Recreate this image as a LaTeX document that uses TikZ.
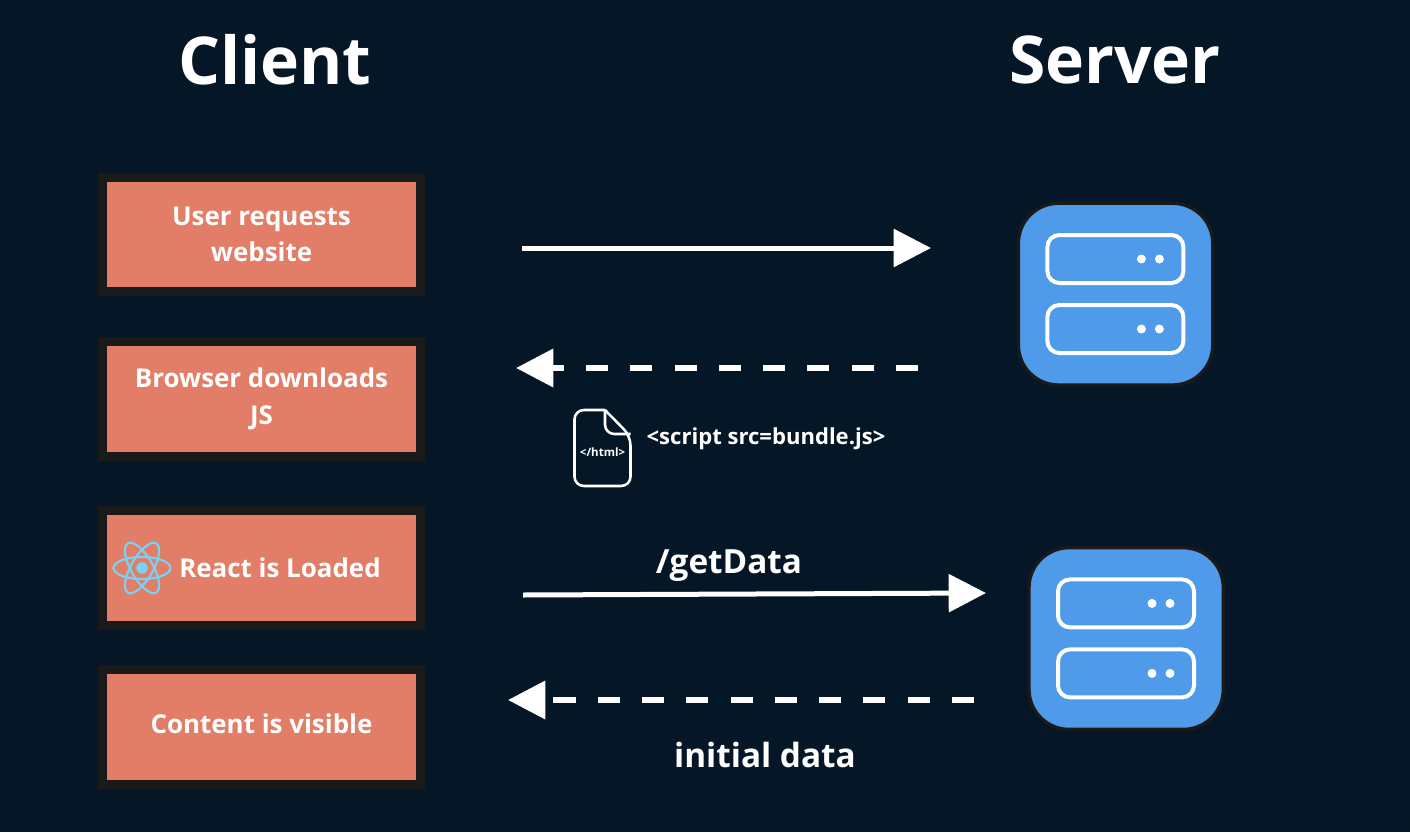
\documentclass[tikz,border=0pt]{standalone}
\usepackage{xcolor}
\usepackage{fontspec}
\setmainfont{Open Sans}
\usetikzlibrary{arrows.meta, positioning}
\definecolor{pagebg}{HTML}{051626}
\definecolor{stepcoral}{HTML}{E27D67}
\definecolor{stepedge}{HTML}{1A1A1A}
\definecolor{serverblue}{HTML}{4F9AE9}
\definecolor{reactblue}{HTML}{79D3F5}
\tikzset{
    titlelabel/.style={text=white, font=\bfseries\fontsize{49.5}{55}\selectfont},
    flowlabel/.style={text=white, font=\bfseries\fontsize{25}{30}\selectfont},
    stepbox/.style={draw=stepedge, line width=6.75pt, fill=stepcoral, text=white,
        minimum width=238.5pt, minimum height=85.9pt, align=center, inner sep=0pt,
        font=\bfseries\fontsize{19.45}{27.5}\selectfont},
    steplabel/.style={text=white, inner sep=0pt, font=\bfseries\fontsize{19.45}{27.5}\selectfont},
    flowline/.style={white, line width=3.75pt, -{Triangle[length=28pt, width=28pt]}},
    backline/.style={flowline, line width=4.5pt, dash pattern=on 16.6pt off 16.6pt},
    servericon/.style={fill=serverblue, draw=stepedge, line width=2.5pt, rounded corners=30pt},
    serverslot/.style={draw=white, line width=3pt, rounded corners=9pt}
}

\begin{document}
\begin{tikzpicture}[x=0.75pt, y=-0.75pt]
    % Background
    \fill[pagebg] (0,0) rectangle (1410,832);
    \useasboundingbox (0,0) rectangle (1410,832);

    % Titles
    \node[titlelabel] (clienttitle) at (275,60) {Client};
    \node[titlelabel] (servertitle) at (1115,60) {Server};

    % Client steps
    \node[stepbox] (userbox) at (261.5,234.3) {User requests\\website};
    \node[stepbox] (browserbox) at (261.5,399) {Browser downloads\\JS};
    \node[stepbox] (reactbox) at (261.5,568) {};
    \node[stepbox] (contentbox) at (261.5,727) {};
    \node[steplabel] (reactlabel) at (280,568) {React is Loaded};
    \node[steplabel] (contentlabel) at (261.5,724) {Content is visible};

    % React logo
    \foreach \a in {0,60,120} {
        \draw[reactblue, line width=1.6pt, rotate around={\a:(142,568)}] (142,568) ellipse (28.5 and 11);
    }
    \fill[reactblue] (142,568) circle (5.8);

    % Servers
    \foreach \x/\y in {1018.4/203.3, 1029/547.7} {
        \begin{scope}[shift={(\x,\y)}]
            \draw[servericon] (0,0) rectangle (194.3,181.7);
            \foreach \s in {31.7,101.7} {
                \draw[serverslot] (29,\s) rectangle (165,\s+48);
                \fill[white] (123,\s+24) circle (4.5);
                \fill[white] (141,\s+24) circle (4.5);
            }
        \end{scope}
    }

    % Arrow ends
    \coordinate (reqstart) at (522,248);
    \coordinate (reqend) at (931,248);
    \coordinate (jsstart) at (918,368);
    \coordinate (jsend) at (516,368);
    \coordinate (datastart) at (523,595);
    \coordinate (dataend) at (986,593);
    \coordinate (backstart) at (974,700);
    \coordinate (backend) at (508,700);

    % Arrows
    \draw[flowline] (reqstart) -- (reqend);
    \draw[backline] (jsstart) -- (jsend);
    \draw[flowline] (datastart) -- (dataend);
    \draw[backline] (backstart) -- (backend);

    % Html file
    \draw[white, line width=1.9pt, rounded corners=7pt]
        (605,410) -- (574.5,410) -- (574.5,486) -- (630.5,486) -- (630.5,436) -- (605,410);
    \draw[white, line width=1.9pt, rounded corners=7pt] (605,410) -- (605,434) -- (630.5,434);
    \node[text=white, font=\bfseries\fontsize{8.6}{10}\selectfont] (htmllabel) at (602.5,452) {</html>};

    % Labels
    \node[text=white, font=\bfseries\fontsize{16.55}{20}\selectfont] (scriptlabel) at (766,439) {<script src=bundle.js>};
    \node[flowlabel] (getlabel) at (729,566) {/getData};
    \node[flowlabel] (datalabel) at (765,755) {initial data};
\end{tikzpicture}
\end{document}
